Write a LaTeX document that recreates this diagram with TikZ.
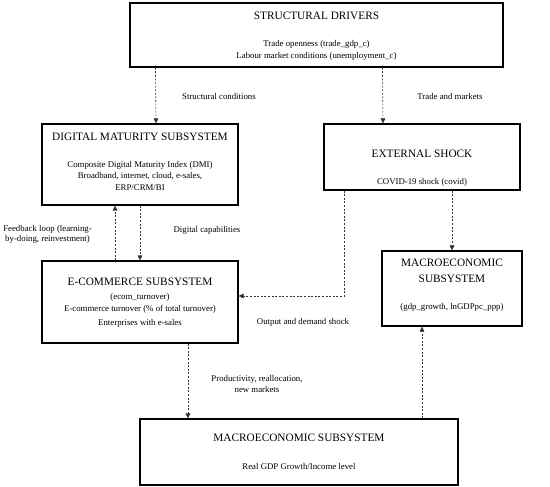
\documentclass[tikz,border=0pt]{standalone}
\usepackage{fontspec}
\setmainfont{Liberation Serif}
\usetikzlibrary{arrows.meta}

\begin{document}
\begin{tikzpicture}[x=1pt,y=-1pt,
  box/.style={draw,black,line width=1.1pt,inner sep=0pt},
  head/.style={font=\fontsize{11.3}{16}\selectfont,align=center,inner sep=0pt},
  txt/.style={font=\fontsize{8.8}{11.5}\selectfont,align=center,inner sep=0pt},
  link/.style={black!80,line width=.6pt,dash pattern=on 2pt off 1.6pt,-{Triangle[length=\l, width=\w]}}]
\def\l{5pt}
\def\w{4.6pt}
\useasboundingbox (0,0) rectangle (550,487);
%boxes
\node [box, minimum width=373, minimum height=64, name=sd]   at (316.5,35)  {};
\node [box, minimum width=196, minimum height=81, name=dms]  at (140,164.5) {};
\node [box, minimum width=196, minimum height=66, name=ext]  at (422,157)   {};
\node [box, minimum width=196, minimum height=82, name=ecom] at (140,302)   {};
\node [box, minimum width=140, minimum height=75, name=mr]   at (452,288.5) {};
\node [box, minimum width=318, minimum height=66, name=mb]   at (299,452)   {};
%texts in boxes
\node [head, name=sdT]   at (316.5,16) {STRUCTURAL DRIVERS};
\node [txt,  name=sdB]   at (316.5,50.5) {Trade openness (trade\_gdp\_c)\\Labour market conditions (unemployment\_c)};
\node [head, name=dmsT]  at (140,137) {DIGITAL MATURITY SUBSYSTEM};
\node [txt,  name=dmsB]  at (140,175.5) {Composite Digital Maturity Index (DMI)\\Broadband, internet, cloud, e-sales,\\ERP/CRM/BI};
\node [head, name=extT]  at (422,154) {EXTERNAL SHOCK};
\node [txt,  name=extB]  at (422,182) {COVID-19 shock (covid)};
\node [head, name=ecomT] at (140,282) {E-COMMERCE SUBSYSTEM};
\node [txt,  name=ecomB] at (140,310.5) {(ecom\_turnover)\\E-commerce turnover (\% of total turnover)\\[3pt]Enterprises with e-sales};
\node [head, name=mrT]   at (452,271) {MACROECONOMIC\\SUBSYSTEM};
\node [txt,  name=mrB]   at (452,307) {(gdp\_growth, lnGDPpc\_ppp)};
\node [head, name=mbT]   at (299,438) {MACROECONOMIC SUBSYSTEM};
\node [txt,  name=mbB]   at (299,466) {Real GDP Growth/Income level};
%links
\draw [link]([xshift=26pt]sd.south west) to ([xshift=16pt]dms.north);
\draw [link]([xshift=253pt]sd.south west) to ([xshift=-39pt]ext.north);
\draw [link](dms.south) to (ecom.north);
\draw [link]([xshift=-25pt]ecom.north) to ([xshift=-25pt]dms.south);
\draw [link]([xshift=30pt]ext.south) to (mr.north);
\draw [link]([xshift=21pt]ext.south west) |- ([yshift=6pt]ecom.east);
\draw [link]([xshift=48pt]ecom.south) to ([xshift=-111pt]mb.north);
\draw [link]([xshift=123pt]mb.north) to ([xshift=-30pt]mr.south);
%labels
\node [txt, name=lsc] at (219,96) {Structural conditions};
\node [txt, name=ltm] at (450,96) {Trade and markets};
\node [txt, font=\fontsize{8.8}{9.5}\selectfont, name=lfb] at (47.5,234.5) {Feedback loop (learning-\\by-doing, reinvestment)};
\node [txt, name=ldc] at (207,230) {Digital capabilities};
\node [txt, name=lod] at (303,322) {Output and demand shock};
\node [txt, name=lpr] at (257,384) {Productivity, reallocation,\\new markets};
\end{tikzpicture}
\end{document}
